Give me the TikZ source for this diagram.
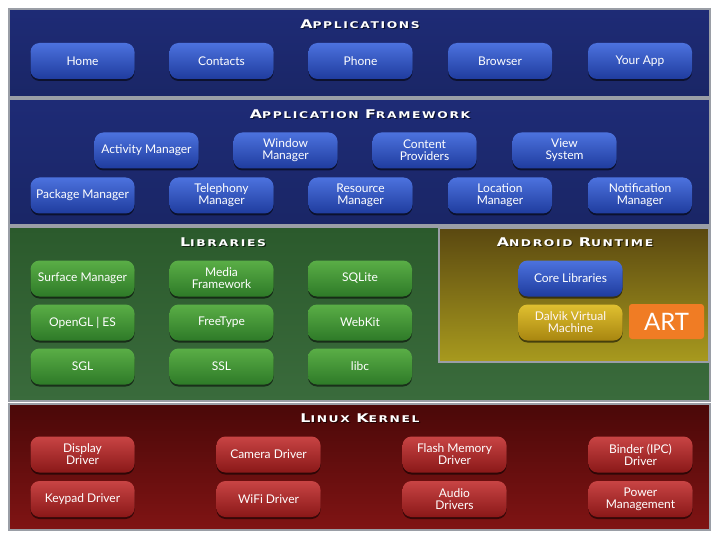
\documentclass[tikz,border=0pt]{standalone}
\usepackage{fontspec}
\setmainfont{Lato}
\newfontfamily\ttlfont[LetterSpace=18,FakeStretch=1.32]{DejaVu Sans}
\usetikzlibrary{shadows}
\definecolor{AppPanel}{HTML}{1E2B76}
\definecolor{AppPanelB}{HTML}{1A2666}
\definecolor{BlueTop}{HTML}{4C72DE}
\definecolor{BlueBot}{HTML}{1F3C9E}
\definecolor{LibTop}{HTML}{2B5A2C}
\definecolor{LibBot}{HTML}{3A6B3C}
\definecolor{GreenTop}{HTML}{5AAE46}
\definecolor{GreenBot}{HTML}{2E7A28}
\definecolor{RtTop}{HTML}{5A4810}
\definecolor{RtBot}{HTML}{A89A1E}
\definecolor{GoldTop}{HTML}{E0C030}
\definecolor{GoldBot}{HTML}{A88610}
\definecolor{KerTop}{HTML}{4A0808}
\definecolor{KerBot}{HTML}{801414}
\definecolor{RedTop}{HTML}{C84444}
\definecolor{RedBot}{HTML}{8A1818}
\definecolor{ArtOrange}{HTML}{F07C24}
\definecolor{PanelEdge}{HTML}{9A9EA6}
\newcommand{\LayerTitle}[2]{{\fontsize{12}{12}\selectfont #1}{\fontsize{9.3}{10}\selectfont #2}}
\tikzset{
  btn/.style={rounded corners=9pt, minimum width=104pt, minimum height=36pt,
    inner sep=1pt, align=center, text=white,
    font=\fontsize{12}{12}\selectfont,
    drop shadow={shadow xshift=0pt, shadow yshift=-2pt, opacity=0.55, fill=black}},
  bluebtn/.style={btn, top color=BlueTop, bottom color=BlueBot},
  greenbtn/.style={btn, top color=GreenTop, bottom color=GreenBot},
  goldbtn/.style={btn, top color=GoldTop, bottom color=GoldBot, text=white!88!pink},
  redbtn/.style={btn, top color=RedTop, bottom color=RedBot},
  panel/.style={draw=PanelEdge, line width=1.6pt},
  ttl/.style={text=white, font=\ttlfont\bfseries, inner sep=0pt},
  ttlshadow/.style={text=black, text opacity=0.6, font=\ttlfont\bfseries, inner sep=0pt}
}
\begin{document}
\begin{tikzpicture}[x=1pt,y=-1pt]
\useasboundingbox (0,0) rectangle (720,540);
\fill[white] (0,0) rectangle (720,540);
% panels
\path[panel, top color=AppPanel, bottom color=AppPanelB] (9,9) rectangle (710,97);
\path[panel, top color=AppPanel, bottom color=AppPanelB] (9,99) rectangle (710,225);
\path[panel, top color=LibTop, bottom color=LibBot] (9,227) rectangle (710,401);
\path[panel, top color=RtTop, bottom color=RtBot] (439,228) rectangle (709,362);
\path[panel, top color=KerTop, bottom color=KerBot] (9,404) rectangle (710,530);
% title shadows
\node[ttlshadow] (sApps) at (361.2,25.2) {\LayerTitle{A}{PPLICATIONS}};
\node[ttlshadow] (sFw) at (361.2,115.2) {\LayerTitle{A}{PPLICATION} \LayerTitle{F}{RAMEWORK}};
\node[ttlshadow] (sLib) at (224.2,243.2) {\LayerTitle{L}{IBRARIES}};
\node[ttlshadow] (sRt) at (576.2,243.2) {\LayerTitle{A}{NDROID} \LayerTitle{R}{UNTIME}};
\node[ttlshadow] (sKer) at (361.2,419.2) {\LayerTitle{L}{INUX} \LayerTitle{K}{ERNEL}};
% titles
\node[ttl] (tApps) at (360,24) {\LayerTitle{A}{PPLICATIONS}};
\node[ttl] (tFw) at (360,114) {\LayerTitle{A}{PPLICATION} \LayerTitle{F}{RAMEWORK}};
\node[ttl] (tLib) at (223,242) {\LayerTitle{L}{IBRARIES}};
\node[ttl] (tRt) at (575,242) {\LayerTitle{A}{NDROID} \LayerTitle{R}{UNTIME}};
\node[ttl] (tKer) at (360,418) {\LayerTitle{L}{INUX} \LayerTitle{K}{ERNEL}};
% applications
\node[bluebtn] (home) at (82.5,61) {Home};
\node[bluebtn] (contacts) at (221.5,61) {Contacts};
\node[bluebtn] (phone) at (360.5,61) {Phone};
\node[bluebtn] (browser) at (500,61) {Browser};
\node[bluebtn] (yourapp) at (640,61) {Your App};
% framework
\node[bluebtn] (activity) at (146.5,150.5) {Activity Manager};
\node[bluebtn] (window) at (285.5,150.5) {Window\\Manager};
\node[bluebtn] (content) at (424.5,150.5) {Content\\Providers};
\node[bluebtn] (view) at (564.5,150.5) {View\\System};
\node[bluebtn] (package) at (82.5,195.5) {Package Manager};
\node[bluebtn] (telephony) at (221.5,195.5) {Telephony\\Manager};
\node[bluebtn] (resource) at (360.5,195.5) {Resource\\Manager};
\node[bluebtn] (location) at (500,195.5) {Location\\Manager};
\node[bluebtn] (notification) at (640,195.5) {Notification\\Manager};
% libraries
\node[greenbtn] (surface) at (82.5,278.5) {Surface Manager};
\node[greenbtn] (media) at (221.5,278.5) {Media\\Framework};
\node[greenbtn] (sqlite) at (360,278.5) {SQLite};
\node[greenbtn] (opengl) at (82.5,322.5) {OpenGL | ES};
\node[greenbtn] (freetype) at (221.5,322.5) {FreeType};
\node[greenbtn] (webkit) at (360,322.5) {WebKit};
\node[greenbtn] (sgl) at (82.5,366.5) {SGL};
\node[greenbtn] (ssl) at (221.5,366.5) {SSL};
\node[greenbtn] (libc) at (360,366.5) {libc};
% runtime
\node[bluebtn] (core) at (570.5,278.5) {Core Libraries};
\node[goldbtn] (dalvik) at (570.5,322.5) {Dalvik Virtual\\Machine};
\node[fill=ArtOrange, rounded corners=3pt, minimum width=75pt, minimum height=35pt,
  inner sep=0pt, text=white, font=\fontsize{24}{24}\selectfont] (art) at (666.5,321.5) {ART};
% kernel
\node[redbtn] (display) at (82.5,454.5) {Display\\Driver};
\node[redbtn] (camera) at (268.5,454.5) {Camera Driver};
\node[redbtn] (flash) at (454.5,454.5) {Flash Memory\\Driver};
\node[redbtn] (binder) at (640.5,454.5) {Binder (IPC)\\Driver};
\node[redbtn] (keypad) at (82.5,499) {Keypad Driver};
\node[redbtn] (wifi) at (268.5,499) {WiFi Driver};
\node[redbtn] (audio) at (454.5,499) {Audio\\Drivers};
\node[redbtn] (power) at (640.5,499) {Power\\Management};
\end{tikzpicture}
\end{document}
